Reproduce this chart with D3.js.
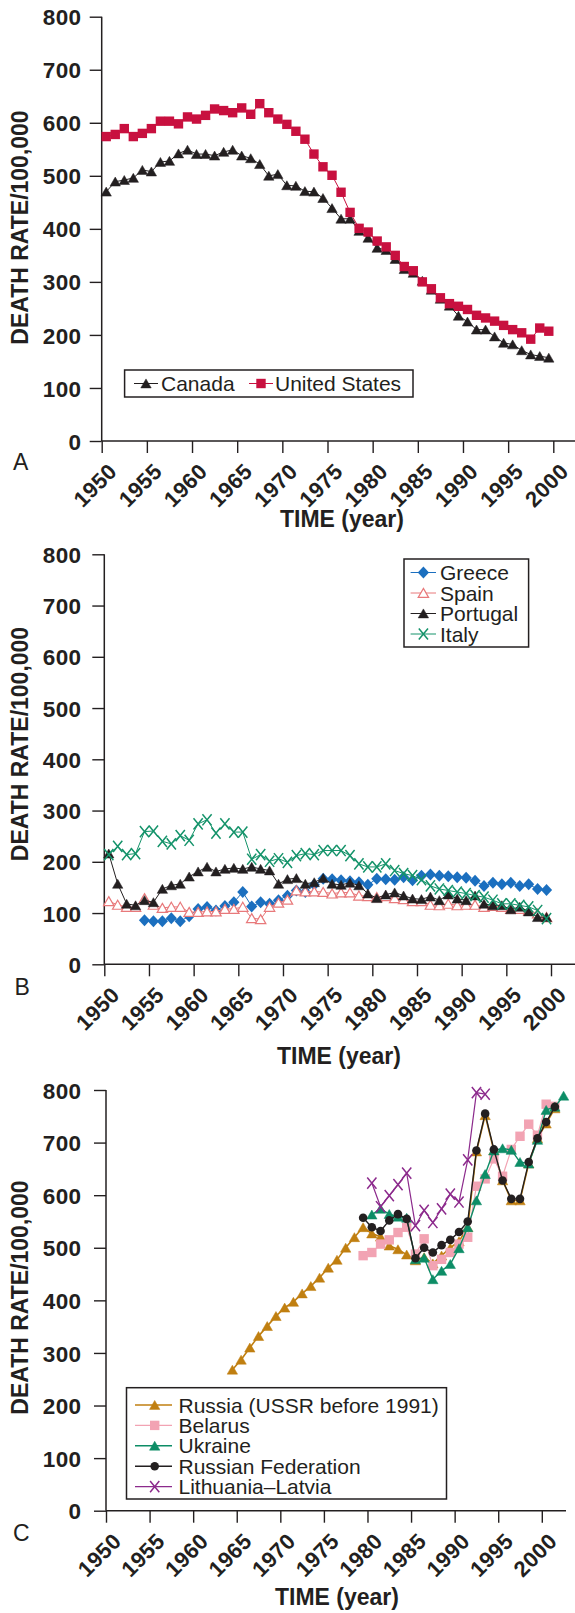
<!DOCTYPE html>
<html><head><meta charset="utf-8">
<script src="https://cdnjs.cloudflare.com/ajax/libs/d3/7.8.5/d3.min.js"></script>
<style>body{margin:0;background:#fff}svg{display:block}</style>
</head><body>
<svg id="chart" width="575" height="1613"></svg>
<script>
// ---------- data ----------
const yTickValues = [0, 100, 200, 300, 400, 500, 600, 700, 800];
const xTickValues = [1950, 1955, 1960, 1965, 1970, 1975, 1980, 1985, 1990, 1995, 2000];
const xTitle = "TIME (year)";
const yTitle = "DEATH RATE/100,000";

// Panel A (first year 1950, yearly)
const canadaStart = 1950;
const canada = [470,489,492,496,511,508,526,528,542,549, 541,541,538,545,549,538,533,522,500,503,
                482,481,471,470,458,439,419,419,396,383, 364,360,343,324,317,302,285,268,255,236,
                225,210,210,197,185,182,171,163,160,157];
const usStart = 1950;
const us = [574,578,589,574,580,589,603,603,598,611, 607,614,626,623,619,628,616,636,619,607,
            597,584,569,541,517,501,469,431,401,394, 377,366,350,329,321,300,287,270,259,254,
            248,237,232,226,218,210,204,192,213,207];

// Panel B
const greeceStart = 1954;
const greece = [86,84,84,90,84,94,108,112,105,114, 121,141,113,121,118,125,134,144,141,155,
                167,166,164,162,160,155,167,166,165,170, 164,173,175,173,172,170,169,163,153,159,
                156,159,153,156,147,145];
const spainStart = 1950;
const spain = [123,116,112,112,129,116,110,112,112,102, 102,103,103,108,108,112,90,88,112,120,
               126,144,142,142,141,138,140,140,134,133, 131,133,129,127,123,123,116,115,118,115,
               116,116,112,114,112,108,108,105,99,92];
const portugalStart = 1950;
const portugal = [216,157,118,115,125,121,147,154,157,171, 181,190,181,186,188,186,190,186,183,157,
                  166,168,157,160,168,157,155,159,154,138, 129,136,140,134,128,127,132,125,136,128,
                  125,134,118,115,115,107,112,103,92,92];
const italyStart = 1950;
const italy = [214,230,214,216,259,260,240,235,251,242, 274,282,256,274,258,258,205,214,201,206,
               199,212,216,214,222,222,222,212,196,190, 190,196,183,177,173,165,153,147,144,141,
               138,134,131,125,118,118,115,112,105,89];

// Panel C
const russiaStart = 1964;
const russia = [268,287,310,332,351,370,386,397,413,427, 443,462,477,500,520,539,527,521,504,497,
                487,476,482,470,485,500,512,539,683,752, 685,628,590,590,660,708,736,765];
const belarusStart = 1979;
const belarus = [485,491,507,515,529,539,488,517,466,478,491,507,520,617,631,669,636,687,712,735,714,773,769];
const ukraineStart = 1980;
const ukraine = [563,574,564,559,557,478,481,440,456,469,499,539,590,640,685,689,686,663,660,705,762,768,789];
const rusFedStart = 1979;
const rusFed = [557,539,532,552,564,555,480,500,491,505,515,530,550,685,755,687,628,593,593,663,708,739,768];
const litLatStart = 1980;
const litLat = [623,578,599,620,642,542,571,548,574,602,587,667,795,792];

// ---------- styles / layout ----------
const FONT = "'Liberation Sans', Arial, Helvetica, sans-serif";
const INK = "#231f20";

const panels = [
  { label: "A", left: 101.7, x2000: 553.3, top: 16.7, bottom: 441, axisEnd: 575,
    yTitleY: 227.5, xTitleX: 342, xTitleY: 527, labelX: 13, labelY: 470,
    series: [
      { name: "Canada", start: canadaStart, values: canada, color: INK, marker: "tri", lw: 1 },
      { name: "United States", start: usStart, values: us, color: "#c8103f", marker: "square", lw: 1 }
    ],
    legend: { x: 124.6, y: 370, w: 288.4, h: 27, horizontal: true, cy: 383.5,
              items: [{ l1: 134, l2: 158, m: 146, t: 161 }, { l1: 249, l2: 273, m: 261, t: 275 }] }
  },
  { label: "B", left: 104.3, x2000: 551, top: 554.3, bottom: 964.3, axisEnd: 575,
    yTitleY: 744, xTitleX: 339, xTitleY: 1063.5, labelX: 14.5, labelY: 995,
    series: [
      { name: "Greece", start: greeceStart, values: greece, color: "#1b6fbf", marker: "diamond", lw: 1 },
      { name: "Spain", start: spainStart, values: spain, color: "#e8797b", marker: "triOpen", lw: 1 },
      { name: "Portugal", start: portugalStart, values: portugal, color: INK, marker: "tri", lw: 1 },
      { name: "Italy", start: italyStart, values: italy, color: "#14936a", marker: "x", lw: 1 }
    ],
    legend: { x: 404, y: 559, w: 124.6, h: 88, horizontal: false, cy0: 572.5, dy: 20.5,
              l1: 410.6, l2: 436, m: 423.4, t: 440 }
  },
  { label: "C", left: 106, x2000: 541.8, top: 1090, bottom: 1510.7, axisEnd: 566,
    yTitleY: 1297.5, xTitleX: 337, xTitleY: 1605, labelX: 13, labelY: 1541,
    series: [
      { name: "Russia (USSR before 1991)", start: russiaStart, values: russia, color: "#c07f10", marker: "tri", lw: 1.6 },
      { name: "Belarus", start: belarusStart, values: belarus, color: "#f2a3b3", marker: "square", lw: 1.2 },
      { name: "Ukraine", start: ukraineStart, values: ukraine, color: "#0d8d66", marker: "tri", lw: 1.4 },
      { name: "Russian Federation", start: rusFedStart, values: rusFed, color: INK, marker: "circle", lw: 1.4 },
      { name: "Lithuania\u2013Latvia", start: litLatStart, values: litLat, color: "#8c2a8c", marker: "x", lw: 1.2 }
    ],
    legend: { x: 126.5, y: 1387.7, w: 320, h: 111.3, horizontal: false, cy0: 1405, dy: 20.4,
              l1: 135, l2: 172, m: 154.7, t: 178.5 }
  }
];

const svg = d3.select("#chart");

function drawMarker(g, type, color, x, y) {
  if (type === "tri" || type === "triOpen") {
    g.append("path").attr("d", "M0,-4.6L5.2,4.4L-5.2,4.4Z")
      .attr("transform", `translate(${x},${y})`)
      .attr("fill", type === "tri" ? color : "#fff")
      .attr("stroke", color).attr("stroke-width", type === "tri" ? 0.5 : 1.2);
  } else if (type === "square") {
    g.append("rect").attr("x", x - 4.7).attr("y", y - 4.7).attr("width", 9.4).attr("height", 9.4)
      .attr("fill", color);
  } else if (type === "diamond") {
    g.append("path").attr("d", "M0,-6L5.6,0L0,6L-5.6,0Z")
      .attr("transform", `translate(${x},${y})`).attr("fill", color);
  } else if (type === "circle") {
    g.append("circle").attr("cx", x).attr("cy", y).attr("r", 4.3).attr("fill", color);
  } else if (type === "x") {
    g.append("path").attr("d", "M-4.6,-5.6L4.6,5.6M4.6,-5.6L-4.6,5.6")
      .attr("transform", `translate(${x},${y})`)
      .attr("fill", "none").attr("stroke", color).attr("stroke-width", 1.5);
  }
}

const xOffset = 0.5; // points sit mid-year

panels.forEach(p => {
  const x = d3.scaleLinear().domain([1950, 2000]).range([p.left, p.x2000]);
  const y = d3.scaleLinear().domain([0, 800]).range([p.bottom, p.top]);
  const g = svg.append("g");

  // y axis
  const ya = g.append("g").attr("transform", `translate(${p.left},0)`)
    .call(d3.axisLeft(y).tickValues(yTickValues).tickSize(12).tickSizeOuter(0).tickFormat(d3.format("d")));
  ya.select(".domain").remove();
  ya.selectAll(".tick line").attr("stroke", INK).attr("stroke-width", 1.4);
  ya.selectAll(".tick text").attr("x", 81.5 - p.left).attr("dy", "0.36em")
    .attr("fill", INK).style("font", `bold 22.5px ${FONT}`).style("letter-spacing", "0.4px");
  g.append("line").attr("x1", p.left).attr("x2", p.left).attr("y1", p.top).attr("y2", p.bottom)
    .attr("stroke", INK).attr("stroke-width", 1.5);

  // x axis
  const xa = g.append("g").attr("transform", `translate(0,${p.bottom})`)
    .call(d3.axisBottom(x).tickValues(xTickValues).tickSize(12).tickSizeOuter(0).tickFormat(d3.format("d")));
  xa.select(".domain").remove();
  xa.selectAll(".tick line").attr("stroke", INK).attr("stroke-width", 1.4);
  xa.selectAll(".tick text").attr("x", null).attr("y", null).attr("dy", null)
    .attr("transform", "translate(16,32) rotate(-45)")
    .style("text-anchor", "end").attr("fill", INK)
    .style("font", `bold 22px ${FONT}`).style("letter-spacing", "0.3px");
  g.append("line").attr("x1", p.left).attr("x2", p.axisEnd).attr("y1", p.bottom).attr("y2", p.bottom)
    .attr("stroke", INK).attr("stroke-width", 1.5);

  // titles
  g.append("text").attr("transform", `translate(27.5,${p.yTitleY}) rotate(-90)`)
    .attr("text-anchor", "middle").attr("fill", INK)
    .style("font", `bold 23px ${FONT}`).text(yTitle);
  g.append("text").attr("x", p.xTitleX).attr("y", p.xTitleY).attr("text-anchor", "middle")
    .attr("fill", INK).style("font", `bold 23px ${FONT}`).text(xTitle);
  g.append("text").attr("x", p.labelX).attr("y", p.labelY).attr("fill", INK)
    .style("font", `23px ${FONT}`).text(p.label);

  // series
  p.series.forEach(s => {
    const pts = s.values.map((v, i) => [x(s.start + i + xOffset), y(v)]);
    g.append("path").attr("d", d3.line()(pts)).attr("fill", "none")
      .attr("stroke", s.color).attr("stroke-width", s.lw).attr("stroke-linejoin", "round");
    const mg = g.append("g");
    pts.forEach(pt => drawMarker(mg, s.marker, s.color, pt[0], pt[1]));
  });

  // legend
  const L = p.legend;
  const lg = g.append("g");
  lg.append("rect").attr("x", L.x).attr("y", L.y).attr("width", L.w).attr("height", L.h)
    .attr("fill", "#fff").attr("stroke", INK).attr("stroke-width", 1.5);
  p.series.forEach((s, i) => {
    let l1, l2, m, t, cy;
    if (L.horizontal) { ({ l1, l2, m, t } = L.items[i]); cy = L.cy; }
    else { l1 = L.l1; l2 = L.l2; m = L.m; t = L.t; cy = L.cy0 + i * L.dy; }
    lg.append("line").attr("x1", l1).attr("x2", l2).attr("y1", cy).attr("y2", cy)
      .attr("stroke", s.color).attr("stroke-width", s.lw);
    drawMarker(lg, s.marker, s.color, m, cy);
    lg.append("text").attr("x", t).attr("y", cy + 7.5).attr("fill", INK)
      .style("font", `21px ${FONT}`).text(s.name);
  });
});
</script>
</body></html>
